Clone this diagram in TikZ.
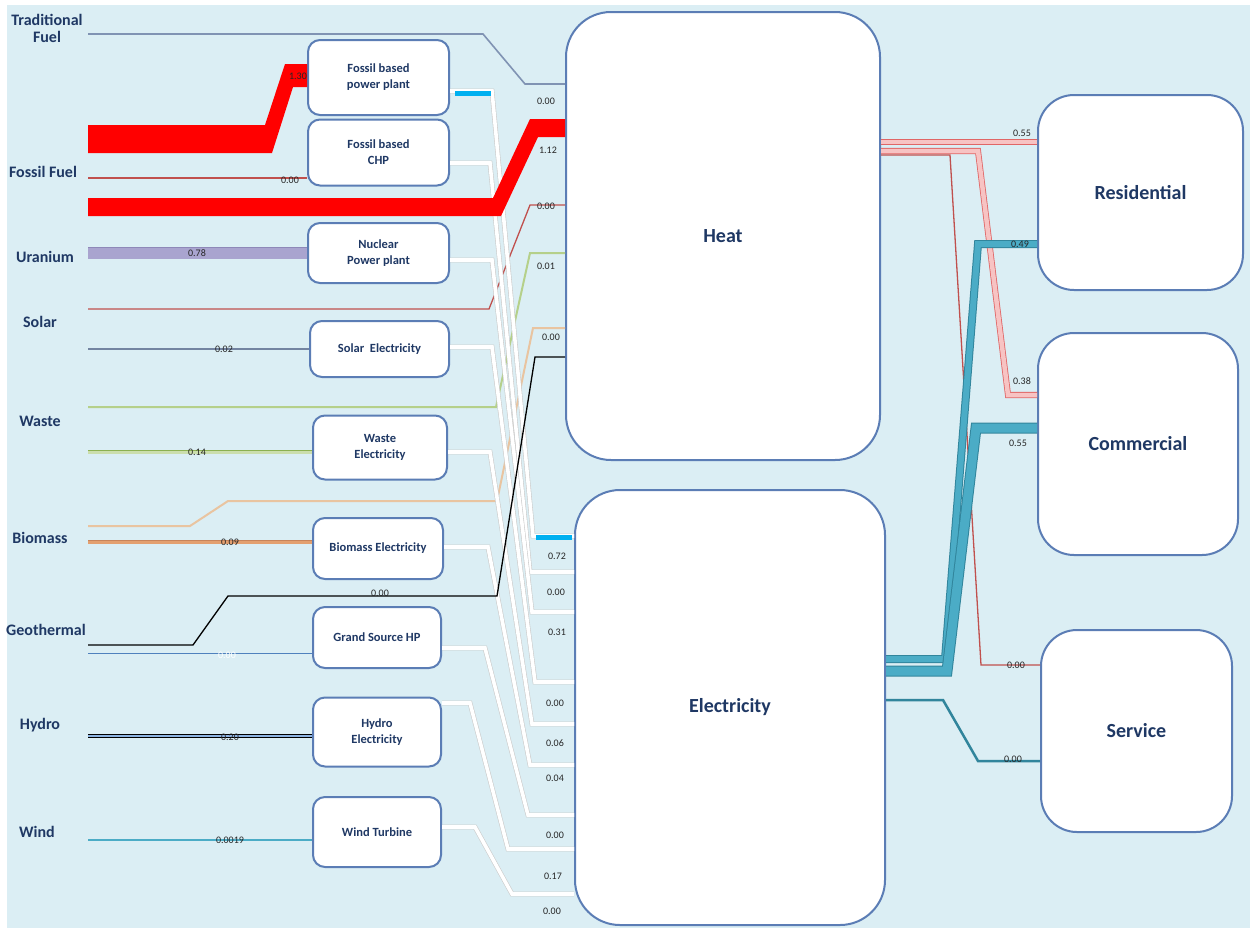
\documentclass[tikz,border=0pt]{standalone}
\usepackage{fontspec}
\setmainfont{Carlito}
\definecolor{bgblue}{HTML}{DBEEF4}
\definecolor{boxline}{HTML}{5B7DB5}
\definecolor{navy}{HTML}{1F3864}
\definecolor{tradline}{HTML}{8093B3}
\definecolor{heatred}{HTML}{C0504D}
\definecolor{uranfill}{HTML}{A9A4CF}
\definecolor{uranline}{HTML}{8E88B8}
\definecolor{wastegreen}{HTML}{B5D08A}
\definecolor{wastedark}{HTML}{8CB050}
\definecolor{biotan}{HTML}{E9C4A0}
\definecolor{biofill}{HTML}{E3A070}
\definecolor{biodark}{HTML}{C8845A}
\definecolor{geoblue}{HTML}{4F81BD}
\definecolor{hydrofill}{HTML}{8DB4E2}
\definecolor{windteal}{HTML}{4BACC6}
\definecolor{skyblue}{HTML}{00B0F0}
\definecolor{pinkfill}{HTML}{F7C3C3}
\definecolor{pinkline}{HTML}{E06666}
\definecolor{tealfill}{HTML}{4BACC6}
\definecolor{tealline}{HTML}{31859C}
\begin{document}
\begin{tikzpicture}[x=1pt,y=-1pt,line cap=butt,line join=miter]
	\tikzset{srclabel/.style={font=\fontsize{16}{17}\selectfont\bfseries,text=navy,align=center},
		convbox/.style={draw=boxline,line width=2pt,fill=white,rounded corners=12pt,inner sep=0pt,
			font=\fontsize{12.5}{16}\selectfont\bfseries,text=navy,align=center},
		bigbox/.style={draw=boxline,line width=2pt,fill=white,rounded corners=45pt,
			font=\fontsize{20}{24}\selectfont\bfseries,text=navy},
		val/.style={font=\fontsize{10}{12}\selectfont,text=black!85,inner sep=0pt},
		elecflow/.style={draw=gray!40,double=white,double distance=3.6pt,line width=.6pt},
		pinkband/.style={draw=pinkline,double=pinkfill,double distance=#1,line width=.8pt},
		tealband/.style={draw=tealline,double=tealfill,double distance=#1,line width=1pt}
	}
	\useasboundingbox (0,0) rectangle (1252,930);
	\fill[bgblue] (7,5) rectangle (1250,928);
	\coordinate (src) at (88,0);
	\foreach \n/\x/\y/\t in {trad/47/28/{Traditional\\Fuel},foss/43/172/{Fossil Fuel},uran/45/257/Uranium,
		solar/40/322/Solar,waste/40/421/Waste,biom/40/538/Biomass,geo/46/630/Geothermal,hydro/40/725/Hydro,
		windsrc/37/832/Wind}
		\node[srclabel] (\n) at (\x,\y) {\t};
	\node[bigbox,minimum width=314pt,minimum height=448pt] (heat) at (723,236) {Heat};
	\node[bigbox,minimum width=310pt,minimum height=435pt] (elec) at (730,707.5) {Electricity};
	\node[bigbox,rounded corners=36pt,minimum width=205pt,minimum height=195pt] (res) at (1140.5,192.5) {Residential};
	\node[bigbox,rounded corners=36pt,minimum width=200pt,minimum height=222pt] (com) at (1138,444) {Commercial};
	\node[bigbox,rounded corners=36pt,minimum width=191pt,minimum height=202pt] (ser) at (1136.5,731) {Service};
	\foreach \n/\x/\y/\w/\h/\t in {fpp/378.5/77.5/141/75/{Fossil based\\power plant},chp/378.5/152.5/141/66/{Fossil based\\CHP},
		npp/378.5/253/141/60/{Nuclear\\Power plant},sol/379.5/349/139/56/{Solar\ \ Electricity},
		wst/380/447.5/134/64/{Waste\\Electricity},bio/378/548.5/130/61/{Biomass Electricity},
		gshp/377/637.5/128/61/{Grand Source HP},hyd/377/732/128/69/{Hydro\\Electricity},wind/377/832/128/70/{Wind Turbine}}
		\node[convbox,minimum width=\w pt,minimum height=\h pt] (\n) at (\x,\y) {\t};
	% sources to converters
	\fill[red] (src|-0,125) -- (265,125) -- (285,64) -- (fpp.west|-0,64) -- (fpp.west|-0,87) -- (293,87) -- (272,153) -- (src|-0,153) -- cycle;
	\draw[heatred,line width=1.2pt] (src|-0,178) -- (chp.west|-0,178);
	\draw[draw=uranline,double=uranfill,double distance=11pt,line width=.6pt] (src|-0,253) -- (npp.west|-0,253);
	\draw[tradline!90!black,line width=1.4pt] (src|-0,349) -- (sol.west|-0,349);
	\draw[draw=wastedark,double=wastegreen!70!white,double distance=3pt,line width=.6pt] (src|-0,452) -- (wst.west|-0,452);
	\draw[draw=biodark,double=biofill,double distance=3pt,line width=.6pt] (src|-0,542) -- (bio.west|-0,542);
	\draw[geoblue,line width=1pt] (src|-0,653) -- (gshp.west|-0,653);
	\draw[draw=black,double=hydrofill,double distance=2.5pt,line width=1.2pt] (src|-0,736) -- (hyd.west|-0,736);
	\draw[windteal,line width=1.2pt] (src|-0,840) -- (wind.west|-0,840);
	% sources to heat
	\draw[tradline,line width=1.6pt] (src|-0,34) -- (483,34) -- (525,84) -- (heat.west|-0,84);
	\draw[heatred,line width=1.3pt] (src|-0,309) -- (489,309) -- (530,205) -- (heat.west|-0,205);
	\draw[wastegreen,line width=2pt] (src|-0,407) -- (496,407) -- (530,253) -- (heat.west|-0,253);
	\draw[biotan,line width=2pt] (src|-0,526) -- (190,526) -- (228,501) -- (497,501) -- (533,328) -- (heat.west|-0,328);
	% converters to electricity
	\foreach \n/\ya/\xa/\xb/\yb in {fpp/91/492/533/536,chp/163/490/530/572,npp/260/492/532/612,sol/347/492/535/682,
		wst/452/490/532/724,bio/547/488/530/765,gshp/648/485/528/815,hyd/703/470/508/849,wind/827/475/512/894}
		\draw[elecflow] (\n.east|-0,\ya) -- (\xa,\ya) -- (\xb,\yb) -- (elec.west|-0,\yb);
	\draw[skyblue,line width=5pt] ([xshift=5pt]fpp.east|-0,93) -- (491,93);
	\draw[skyblue,line width=5pt] (536,537) -- ([xshift=-2pt]elec.west|-0,537);
	\draw[black,line width=1.3pt] (src|-0,645) -- (193,645) -- (228,596) -- (497,596) -- (535,357) -- (heat.west|-0,357);
	\fill[red] (src|-0,198) -- (493,198) -- (530,119) -- (heat.west|-0,119) -- (heat.west|-0,137) -- (538,137) -- (501,216) -- (src|-0,216) -- cycle;
	% heat and electricity to sectors
	\draw[heatred,line width=1.3pt] (heat.east|-0,155) -- (950,155) -- (981,665) -- (ser.west|-0,665);
	\draw[pinkband=4.5pt] (heat.east|-0,151) -- (978,151) -- (1008,395) -- (com.west|-0,395);
	\draw[pinkband=4.5pt] (heat.east|-0,142) -- (res.west|-0,142);
	\draw[tealband=6pt] (elec.east|-0,659) -- (945,659) -- (978,244) -- (res.west|-0,244);
	\draw[tealband=9pt] (elec.east|-0,671) -- (947,671) -- (976,428) -- (com.west|-0,428);
	\draw[tealline,line width=2.5pt] (elec.east|-0,700) -- (943,700) -- (978,761) -- (ser.west|-0,761);
	% values
	\foreach \n/\x/\y/\v in {v130/298/76/1.30,vtrad/546/101/0.00,v112/548/150/1.12,vchp/290/180/0.00,vuh/546/206/0.00,
		v078/197/253/0.78,v001/546/266/0.01,vbh/551/337/0.00,v002/224/349/0.02,v014/197/452/0.14,v009/230/542/0.09,
		vgeo/380/593/0.00,vhy/230/737/0.20,vwind/230/840/0.0019,
		e1/557/556/0.72,e2/556/592/0.00,e3/557/632/0.31,e4/555/703/0.00,e5/555/743/0.06,e6/555/778/0.04,
		e7/555/835/0.00,e8/553/876/0.17,e9/552/911/0.00,
		r1/1022/133/0.55,r2/1020/244/0.49,c1/1022/381/0.38,c2/1018/443/0.55,s1/1016/665/0.00,s2/1013/759/0.00}
		\node[val] (\n) at (\x,\y) {\v};
	\node[val,text=white] (vgs) at (227,655) {0.00};
\end{tikzpicture}
\end{document}
